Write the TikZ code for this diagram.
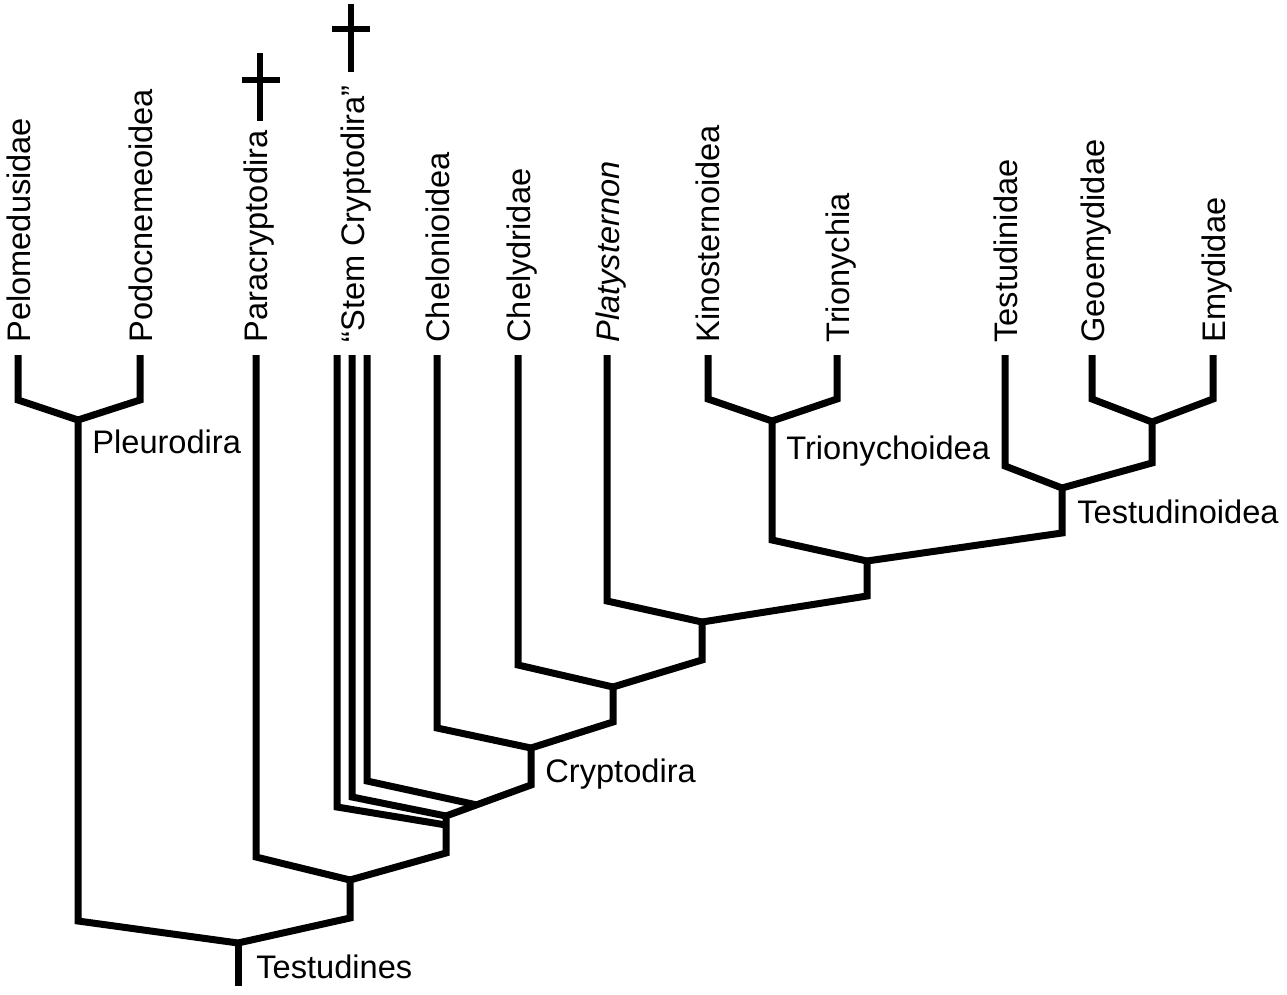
\documentclass[tikz,border=0pt]{standalone}
\usepackage{fontspec}
\setmainfont{Liberation Sans}

\begin{document}
\begin{tikzpicture}[x=0.5pt, y=-0.5pt,
    ast/.style={line width=3.5pt},
    kreuz/.style={line width=2.7pt},
    taxon/.style={rotate=90, anchor=base west, inner sep=0pt, font=\fontsize{16.3}{19}\selectfont},
    gruppe/.style={anchor=base west, inner sep=0pt, font=\fontsize{16.3}{19}\selectfont}]
  \useasboundingbox (0,0) rectangle (1287,995);

  % Taxa oben
  \node[taxon] (pelo) at (31,343) {Pelomedusidae};
  \node[taxon] (podo) at (152,343) {Podocnemeoidea};
  \node[taxon] (para) at (267,343) {Paracryptodira};
  \node[taxon] (stem) at (364,343) {“Stem Cryptodira”};
  \node[taxon] (chelo) at (449,343) {Chelonioidea};
  \node[taxon] (chely) at (530,343) {Chelydridae};
  \node[taxon] (platy) at (619,343) {\itshape Platysternon};
  \node[taxon] (kino) at (719,343) {Kinosternoidea};
  \node[taxon] (trio) at (849,343) {Trionychia};
  \node[taxon] (testu) at (1017,343) {Testudinidae};
  \node[taxon] (geo) at (1104,343) {Geoemydidae};
  \node[taxon] (emy) at (1225,343) {Emydidae};

  % ausgestorbene Gruppen
  \draw[kreuz] (260,53) -- (260,121);
  \draw[kreuz] (242,80) -- (280,80);
  \draw[kreuz] (351,4) -- (351,72);
  \draw[kreuz] (332,29) -- (370,29);

  % Astspitzen
  \coordinate (pelo-o) at (18,355);
  \coordinate (podo-o) at (140,355);
  \coordinate (para-o) at (256,355);
  \coordinate (stem1-o) at (337,355);
  \coordinate (stem2-o) at (352,355);
  \coordinate (stem3-o) at (367,355);
  \coordinate (chelo-o) at (437,355);
  \coordinate (chely-o) at (518,355);
  \coordinate (platy-o) at (607,355);
  \coordinate (kino-o) at (708,355);
  \coordinate (trio-o) at (837,355);
  \coordinate (testu-o) at (1005,355);
  \coordinate (geo-o) at (1092,355);
  \coordinate (emy-o) at (1213,355);

  % Verzweigungen
  \coordinate (testudines) at (238,943);
  \coordinate (pleurodira) at (78,420);
  \coordinate (knotenA) at (350,880);
  \coordinate (knotenB) at (446,816);
  \coordinate (cryptodira) at (531,748);
  \coordinate (knotenD) at (613,687);
  \coordinate (knotenE) at (702,622);
  \coordinate (knotenF) at (867,561);
  \coordinate (trionychoidea) at (772,421);
  \coordinate (testudinoidea) at (1062,488);
  \coordinate (knotenI) at (1152,422);

  % Wurzel
  \draw[ast] (testudines) -- (238,986);
  \node[gruppe] (lab-testudines) at (256,978) {Testudines};

  % Pleurodira
  \draw[ast] (testudines) -- (78,921) -- (pleurodira);
  \draw[ast] (pleurodira) -- (18,400) -- (pelo-o);
  \draw[ast] (pleurodira) -- (140,400) -- (podo-o);
  \node[gruppe] (lab-pleurodira) at (92,453) {Pleurodira};

  % Paracryptodira und Stammgruppen
  \draw[ast] (testudines) -- (350,918) -- (knotenA);
  \draw[ast] (knotenA) -- (256,857) -- (para-o);
  \draw[ast] (knotenA) -- (446,853) -- (knotenB);
  \draw[ast] (446,825) -- (337,807) -- (stem1-o);
  \draw[ast] (knotenB) -- (352,797) -- (stem2-o);
  \draw[ast] (477,805) -- (367,781) -- (stem3-o);

  % Cryptodira
  \draw[ast] (knotenB) -- (531,785) -- (cryptodira);
  \node[gruppe] (lab-cryptodira) at (545,782) {Cryptodira};
  \draw[ast] (cryptodira) -- (437,728) -- (chelo-o);
  \draw[ast] (cryptodira) -- (613,722) -- (knotenD);
  \draw[ast] (knotenD) -- (518,665) -- (chely-o);
  \draw[ast] (knotenD) -- (702,660) -- (knotenE);
  \draw[ast] (knotenE) -- (607,601) -- (platy-o);
  \draw[ast] (knotenE) -- (867,596) -- (knotenF);

  % Trionychoidea
  \draw[ast] (knotenF) -- (772,540) -- (trionychoidea);
  \draw[ast] (trionychoidea) -- (708,399) -- (kino-o);
  \draw[ast] (trionychoidea) -- (837,399) -- (trio-o);
  \node[gruppe] (lab-trionychoidea) at (786,459) {Trionychoidea};

  % Testudinoidea
  \draw[ast] (knotenF) -- (1062,533) -- (testudinoidea);
  \draw[ast] (testudinoidea) -- (1005,466) -- (testu-o);
  \draw[ast] (testudinoidea) -- (1152,463) -- (knotenI);
  \draw[ast] (knotenI) -- (1092,399) -- (geo-o);
  \draw[ast] (knotenI) -- (1213,399) -- (emy-o);
  \node[gruppe] (lab-testudinoidea) at (1077,523) {Testudinoidea};
\end{tikzpicture}
\end{document}
